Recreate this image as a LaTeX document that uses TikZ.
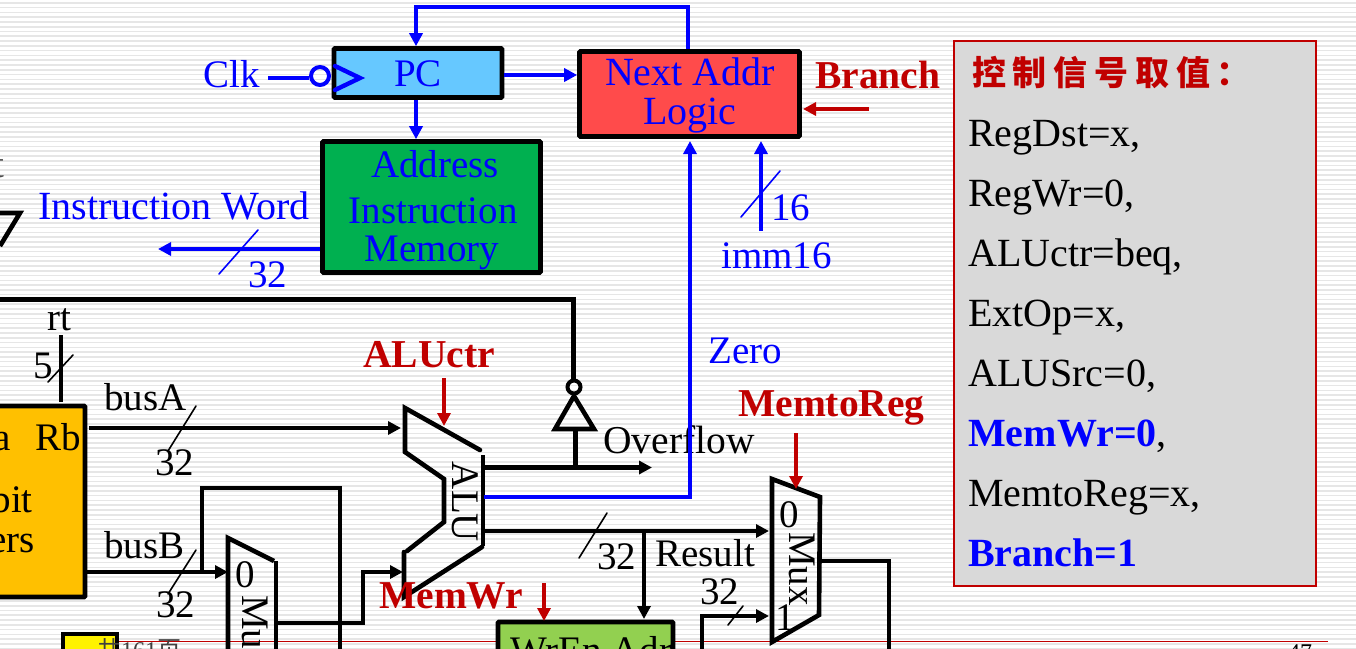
\documentclass[tikz,border=0pt]{standalone}
\usepackage{fontspec}
\setmainfont{Liberation Serif}
\newfontfamily\cjkfont{Noto Sans CJK SC}
\usetikzlibrary{arrows.meta,calc}
\definecolor{wireblue}{HTML}{0000FF}
\definecolor{ctrlred}{HTML}{C00000}
\definecolor{stripe}{HTML}{E6E6E6}
\tikzset{
  x=1pt,y=-1pt,
  tip/.style={-{Triangle[length=13pt,width=13pt]}},
  blackwire/.style={draw=black,line width=4pt,line cap=butt},
  heavywire/.style={draw=black,line width=5pt,line cap=butt},
  bluewire/.style={draw=wireblue,line width=4pt},
  redwire/.style={draw=ctrlred,line width=3.5pt},
  slash/.style={line width=1.6pt,line cap=round},
  unit/.style={draw=black,line width=4.6pt,inner sep=0pt,rounded corners=0.8pt},
  outline/.style={line width=4.6pt},
  txt/.style={inner sep=0pt,anchor=base west,font=\fontsize{39}{39}\selectfont},
  ctxt/.style={txt,anchor=base},
  btxt/.style={txt,text=wireblue},
  cbtxt/.style={ctxt,text=wireblue},
  rtxt/.style={txt,text=ctrlred,font=\fontsize{39.5}{39.5}\selectfont\bfseries},
  ptxt/.style={txt,font=\fontsize{40}{40}\selectfont},
  foot/.style={inner sep=0pt,anchor=base west,font=\fontsize{24}{24}\selectfont},
}
\begin{document}
\begin{tikzpicture}
\path[use as bounding box,clip] (0,0) rectangle (1356,648);
\fill[white] (0,0) rectangle (1356,648);

% ruled slide background
\foreach \k in {0,...,135}{
  \fill[stripe] (0,{2+4.785*\k}) rectangle (1356,{3.6+4.785*\k});
}

% slide footer
\coordinate (footL) at (118,641.5);
\coordinate (footR) at (1328,641.5);
\draw[ctrlred,line width=1.2pt] (footL) -- (footR);
\node[draw=black,line width=3.5pt,fill=yellow,inner sep=0pt,minimum width=54pt,minimum height=40pt] (datebox) at (90,654) {};
\node[foot,text=black!75] (pagetotal) at (97,658) {{\cjkfont 共}161{\cjkfont 页}};
\node[foot] (pagenum) at (1288,660) {47};

% functional units
\node[unit,fill={rgb,255:red,102;green,200;blue,255},minimum width=168pt,minimum height=49pt] (pc) at (418,73) {};
\node[unit,fill={rgb,255:red,0;green,176;blue,80},minimum width=218pt,minimum height=131pt] (imem) at (431.5,207) {};
\node[unit,fill={rgb,255:red,255;green,75;blue,75},minimum width=220pt,minimum height=85pt] (nextaddr) at (689.5,94) {};
\node[unit,fill={rgb,255:red,255;green,192;blue,0},minimum width=115pt,minimum height=191pt] (regfile) at (27.5,501.5) {};
\node[unit,fill={rgb,255:red,146;green,208;blue,80},minimum width=175pt,minimum height=60pt] (dmem) at (585.5,652) {};

% free wire ends and bends
\coordinate (looptop) at (688,7);
\coordinate (loopleft) at (416,7);
\coordinate (clkin) at (268,78);
\coordinate (iwordend) at (158,249);
\coordinate (immin) at (761,231);
\coordinate (immtip) at (761,141);
\coordinate (branchin) at (869,109);
\coordinate (branchtip) at (803,109);
\coordinate (zerostart) at (484,496.5);
\coordinate (zerobend) at (690,496.5);
\coordinate (zerotip) at (690,141);
\coordinate (ovfstart) at (484,467.5);
\coordinate (ovftip) at (652,467.5);
\coordinate (ovftap) at (575,467.5);
\coordinate (resstart) at (484,531);
\coordinate (restip) at (769,531);
\coordinate (restap) at (644,531);
\coordinate (dmemtip) at (644,619);
\coordinate (rtA) at (61,335);
\coordinate (rtB) at (61,402);
\coordinate (busAout) at (89,428);
\coordinate (busAtip) at (401,428);
\coordinate (busBout) at (85,572);
\coordinate (busBtip) at (228,572);
\coordinate (busBtap) at (202,572);
\coordinate (fbA) at (202,488);
\coordinate (fbB) at (340,488);
\coordinate (fbC) at (340,650);
\coordinate (muxAout) at (277,623);
\coordinate (muxAbend) at (363,623);
\coordinate (muxAup) at (363,572);
\coordinate (aluBtip) at (403,572);
\coordinate (ovfbus) at (-2,299);
\coordinate (ovfcorner) at (573,299);
\coordinate (wdA) at (702,650);
\coordinate (wdB) at (702,616);
\coordinate (wdtip) at (769,616);
\coordinate (muxBout) at (822,560.5);
\coordinate (muxBbend) at (889,560.5);
\coordinate (muxBdown) at (889,650);
\coordinate (aluctrA) at (444,378);
\coordinate (aluctrB) at (444,426);
\coordinate (memwrA) at (544,583);
\coordinate (memwrB) at (544,621);
\coordinate (mtrA) at (796,433);
\coordinate (mtrB) at (796,489);

% overflow inverter
\node[draw=black,line width=4pt,circle,inner sep=0pt,minimum size=13pt] (bubble) at (574,387) {};
\draw[black,outline,miter limit=3] (574,396) coordinate (invtop) -- (594,429) -- (555,429) -- cycle;
\coordinate (invbase) at (575,430);

% ALU outline
\draw[outline,line cap=round,line join=miter] (480,450) -- (405,408) -- (405,452) -- (444,479) -- (444,522) -- (407,551);
\draw[outline,line cap=round,line join=miter] (404,552) -- (404,597) -- (482,547);
\draw[outline] (483,455) -- (483,546);

% multiplexers
\draw[outline,line join=miter] (274,561) -- (228,538) -- (228,660);
\draw[outline] (276,561) -- (276,660);
\draw[outline,line join=miter] (772,479) -- (772,642) -- (819,615) -- (820,497) -- cycle;

% black wiring
\draw[heavywire] (ovfbus) -- (ovfcorner) -- (ovfcorner |- bubble.north);
\draw[heavywire] (invbase) -- (ovftap);
\draw[heavywire,tip] (ovfstart) -- (ovftip);
\draw[blackwire,tip] (resstart) -- (restip);
\draw[blackwire,tip] (restap) -- (dmemtip);
\draw[blackwire] (rtA) -- (rtB);
\draw[blackwire,tip] (busAout) -- (busAtip);
\draw[blackwire,tip] (busBout) -- (busBtip);
\draw[blackwire] (busBtap) -- (fbA) -- (fbB) -- (fbC);
\draw[blackwire,tip] (muxAout) -- (muxAbend) -- (muxAup) -- (aluBtip);
\draw[blackwire,tip] (wdA) -- (wdB) -- (wdtip);
\draw[blackwire] (muxBout) -- (muxBbend) -- (muxBdown);
\draw[outline] (0,213) -- (20,213) -- (0,246);

% bus width marks, black
\draw[slash] (73,355) -- (48,382);
\draw[slash] (196,406) -- (168,451);
\draw[slash] (196,550) -- (168,594);
\draw[slash] (607,513) -- (579,558);
\draw[slash] (743,606) -- (728,625);

% control inputs
\draw[redwire,tip] (branchin) -- (branchtip);
\draw[redwire,tip] (aluctrA) -- (aluctrB);
\draw[redwire,tip] (memwrA) -- (memwrB);
\draw[redwire,tip] (mtrA) -- (mtrB);

% unit labels
\node[cbtxt] (pclabel) at (418,86) {PC};
\node[cbtxt] (addrlabel) at (435,177) {Address};
\node[cbtxt] (instrlabel) at (433,223) {Instruction};
\node[cbtxt] (memlabel) at (432,261) {Memory};
\node[cbtxt,font=\fontsize{40}{40}\selectfont] (nextlabel) at (690,85) {Next Addr};
\node[cbtxt,font=\fontsize{40}{40}\selectfont] (logiclabel) at (690,124) {Logic};

% signal labels
\node[btxt] (clklabel) at (203,87) {Clk};
\node[btxt,font=\fontsize{40}{40}\selectfont] (iwordlabel) at (38,219) {Instruction Word};
\node[btxt] (w32label) at (248,287) {32};
\node[btxt] (w16label) at (771,220) {16};
\node[btxt] (immlabel) at (721,268) {imm16};
\node[btxt] (zerolabel) at (708,363) {Zero};
\node[rtxt] (branchlabel) at (815,88) {Branch};
\node[rtxt] (aluctrlabel) at (363,367) {ALUctr};
\node[rtxt] (memwrlabel) at (379,608) {MemWr};
\node[rtxt] (mtrlabel) at (738,416) {MemtoReg};

\node[txt,text=black!70] (cutt) at (-7,177) {t};
\node[txt] (rtlabel) at (47,330) {rt};
\node[txt] (w5label) at (33,378) {5};
\node[txt,anchor=base east] (ralabel) at (11,450) {a};
\node[txt] (rblabel) at (35,450) {Rb};
\node[txt,anchor=base east] (bitlabel) at (33,512) {bit};
\node[txt,anchor=base east] (erslabel) at (35,552) {ers};
\node[txt] (busAlabel) at (104,410) {busA};
\node[txt] (busBlabel) at (104,558) {busB};
\node[txt] (a32label) at (155,475) {32};
\node[txt] (b32label) at (156,617) {32};
\node[txt,font=\fontsize{39.5}{39.5}\selectfont] (overflowlabel) at (603,453) {Overflow};
\node[txt] (r32label) at (597,569) {32};
\node[txt] (resultlabel) at (655,566) {Result};
\node[txt] (m32label) at (700,604) {32};
\node[txt] (dmemlabel) at (510,663) {WrEn Adr};

\node[txt,anchor=center,rotate=-90] (alulabel) at (465,502) {ALU};
\node[txt,anchor=center] (muxAzero) at (245,575) {0};
\node[txt,anchor=west,rotate=-90] (muxAname) at (255,595) {Mux};
\node[txt,anchor=center] (muxBzero) at (789,515) {0};
\node[txt,anchor=center] (muxBone) at (785,618) {1};
\node[txt,anchor=center,rotate=-90] (muxBname) at (802,569) {Mux};

% blue wiring runs on top of the labels
\draw[bluewire,tip] (nextaddr.north -| looptop) -- (looptop) -- (loopleft) -- (pc.north -| loopleft);
\draw[bluewire,tip] (pc.east |- 0,75) -- (nextaddr.west |- 0,75);
\draw[bluewire,tip] (pc.south -| loopleft) -- (imem.north -| loopleft);
\draw[bluewire,tip] (imem.west |- iwordend) -- (iwordend);
\draw[bluewire,tip] (immin) -- (immtip);
\draw[bluewire,tip] (zerostart) -- (zerobend) -- (zerotip);
\node[draw=wireblue,line width=4pt,circle,inner sep=0pt,minimum size=18pt] (clkbubble) at (320,76) {};
\draw[bluewire] (clkin) -- (clkbubble.west |- clkin);
\draw[wireblue,line width=4.4pt,line cap=round] (335,66) -- (360,78) -- (335,90);
\draw[wireblue,slash] (258,230) -- (219,274);
\draw[wireblue,slash] (780,171) -- (741,217);

% control values panel
\node[draw=ctrlred,line width=2pt,fill={rgb,255:red,217;green,217;blue,217},inner sep=0pt,minimum width=362pt,minimum height=545pt] (panel) at (1134.5,313) {};
\node[inner sep=0pt,anchor=base west,text=ctrlred,font=\cjkfont\bfseries\fontsize{34}{34}\selectfont\addfontfeature{LetterSpace=20}] (paneltitle) at (972,85) {控制信号取值：};
\node[ptxt] (v1) at (968,146) {RegDst=x,};
\node[ptxt] (v2) at (968,206) {RegWr=0,};
\node[ptxt] (v3) at (968,266) {ALUctr=beq,};
\node[ptxt] (v4) at (968,326) {ExtOp=x,};
\node[ptxt] (v5) at (968,386) {ALUSrc=0,};
\node[ptxt] (v6) at (968,446) {\textcolor{wireblue}{\bfseries MemWr=0},};
\node[ptxt] (v7) at (968,506) {MemtoReg=x,};
\node[ptxt,text=wireblue,font=\fontsize{40}{40}\selectfont\bfseries] (v8) at (968,566) {Branch=1};
\end{tikzpicture}
\end{document}
